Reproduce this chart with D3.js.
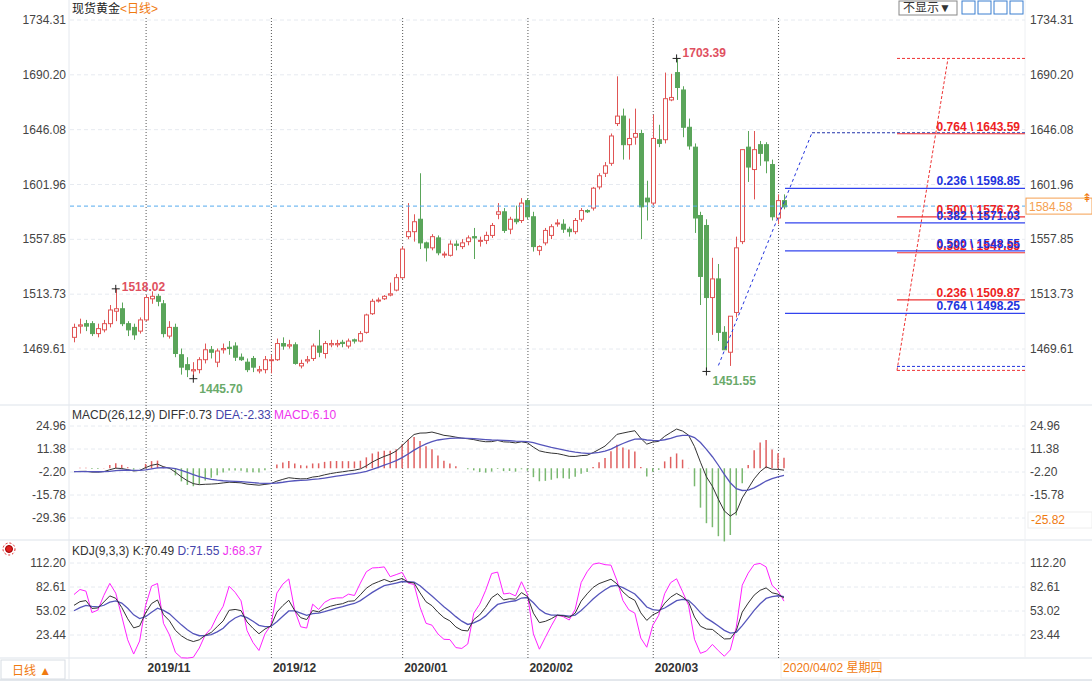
<!DOCTYPE html>
<html><head><meta charset="utf-8">
<script src="https://cdn.jsdelivr.net/npm/d3@7"></script>
<style>
body{margin:0;background:#fff;font-family:Arial,"Liberation Sans","Noto Sans CJK SC",sans-serif}
text{font-size:12px}
</style></head>
<body><svg id="chart" width="1092" height="683"></svg>
<script>
// daily candles, [open, high, low, close], 2019-10 .. 2020-04-02
var candles = [
 [1479,1490,1475,1487],[1488,1494,1482,1489],[1490,1493,1484,1488],[1490,1492,1480,1482],[1482,1490,1479,1486],
 [1485,1493,1483,1490],[1490,1505,1487,1501],[1500,1518.02,1492,1502],[1502,1507,1488,1490],[1490,1492,1480,1485],
 [1487,1490,1477,1481],[1484,1495,1482,1493],[1493,1513,1492,1511],[1510,1516,1506,1512],[1512,1514,1504,1508],
 [1506,1509,1479,1482],[1480,1492,1478,1487],[1487,1490,1463,1466],[1465,1470,1449,1455],[1457,1463,1447,1453],
 [1452,1459,1445.7,1453],[1453,1463,1450,1461],[1461,1474,1458,1469],[1469,1472,1462,1467],[1459,1470,1455,1468],
 [1469,1474,1466,1470],[1471,1476,1465,1470],[1472,1475,1460,1463],[1463,1466,1460,1461],[1459,1462,1451,1453],
 [1462,1464,1451,1455],[1452,1456,1450,1453],[1453,1464,1450,1461],[1461,1465,1450,1461],[1461,1478,1460,1474],
 [1474,1479,1469,1472],[1472,1477,1470,1473],[1473,1475,1457,1458],[1456,1461,1454,1458],[1460,1464,1458,1461],
 [1462,1474,1460,1472],[1472,1485,1463,1467],[1466,1476,1462,1474],[1473,1477,1471,1474],[1473,1477,1471,1474],
 [1475,1477,1471,1474],[1472,1478,1470,1476],[1477,1478,1474,1476],[1476,1484,1475,1482],[1483,1498,1482,1497],
 [1498,1510,1497,1508],[1509,1511,1507,1509],[1510,1513,1509,1512],[1513,1523,1512,1514],[1517,1530,1516,1527],
 [1527,1552,1526,1550],[1560,1587,1558,1564],[1564,1578,1556,1572],[1574,1611,1550,1555],[1555,1556,1540,1551],
 [1551,1562,1549,1560],[1559,1561,1545,1547],[1546,1548,1543,1546],[1545,1557,1544,1554],[1554,1557,1549,1553],
 [1552,1558,1550,1555],[1556,1561,1553,1559],[1560,1567,1542,1559],[1557,1560,1552,1557],[1557,1564,1554,1561],
 [1561,1571,1559,1569],[1578,1587,1574,1580],[1580,1583,1563,1565],[1566,1576,1562,1574],[1574,1585,1570,1572],
 [1573,1591,1571,1587],[1589,1591,1574,1576],[1576,1580,1548,1552],[1549,1553,1545,1552],[1555,1567,1553,1565],
 [1561,1570,1558,1568],[1571,1574,1568,1571],[1570,1574,1563,1566],[1566,1568,1560,1564],[1564,1575,1562,1573],
 [1574,1583,1572,1581],[1581,1582,1579,1580],[1583,1600,1581,1599],[1600,1611,1598,1609],[1611,1620,1608,1617],
 [1619,1643,1617,1641],[1651,1689,1649,1657],[1657,1663,1622,1634],[1634,1655,1622,1639],[1640,1663,1634,1643],
 [1643,1646,1558,1584],[1591,1605,1573,1588],[1587,1658,1585,1639],[1638,1650,1632,1635],[1638,1692,1635,1671],
 [1670,1691,1669,1672],[1692,1703.39,1670,1680],[1678,1681,1640,1648],[1648,1655,1630,1633],[1632,1635,1563,1575],
 [1577,1580,1505,1528],[1569,1574,1451.55,1511],[1511,1543,1481,1526],[1526,1538,1476,1483],[1483,1488,1469,1469],
 [1467,1480,1456,1496],[1499,1560,1495,1551],[1556,1630,1554,1630],[1632,1645,1604,1616],[1614,1645,1590,1630],
 [1634,1637,1617,1627],[1634,1636,1611,1621],[1618,1622,1573,1576],[1575,1594,1570,1589],[1589,1594,1582,1584]
];
var monthIdx = [12, 33, 55, 76, 97];
var monthLabels = ["2019/11", "2019/12", "2020/01", "2020/02", "2020/03"];
var lastIdx = 118;
var lastDate = "2020/04/02 星期四";
var priceTicks = [1734.31, 1690.20, 1646.08, 1601.96, 1557.85, 1513.73, 1469.61];
var macdTicks = [24.96, 11.38, -2.20, -15.78, -29.36];
var kdjTicks = [112.20, 82.61, 53.02, 23.44];
var lastPrice = 1584.58;
var blueFib = [[0.236, 1598.85], [0.382, 1571.03], [0.500, 1548.55], [0.764, 1498.25]];
var redFib = [[0.764, 1643.59], [0.500, 1576.73], [0.382, 1547.85], [0.236, 1509.87]];

var svg = d3.select("#chart");
var L = 70, R = 1025;
var x = d3.scaleLinear().domain([0, 119]).range([74, 784]);
var py = d3.scaleLinear().domain([1469.61, 1734.31]).range([349, 20]);
var my = d3.scaleLinear().domain([-29.36, 24.96]).range([518, 426]);
var ky = d3.scaleLinear().domain([23.44, 112.20]).range([635, 563]);

// frames
svg.append("rect").attr("x", 0).attr("y", 0).attr("width", 1092).attr("height", 683).attr("fill", "#fff");
[405, 540, 658].forEach(function (yy) {
  svg.append("line").attr("x1", 0).attr("x2", 1092).attr("y1", yy).attr("y2", yy).attr("stroke", "#dde3ea");
});
svg.append("line").attr("x1", 0).attr("x2", 1092).attr("y1", 680).attr("y2", 680).attr("stroke", "#c8d0da");
svg.append("line").attr("x1", 69).attr("x2", 69).attr("y1", 0).attr("y2", 680).attr("stroke", "#e4e8ee");
svg.append("line").attr("x1", R).attr("x2", R).attr("y1", 0).attr("y2", 658).attr("stroke", "#eef0f3");

function grid(ticks, sc) {
  ticks.forEach(function (t) {
    svg.append("line").attr("x1", L).attr("x2", R).attr("y1", sc(t)).attr("y2", sc(t))
      .attr("stroke", "#e6eaf0").attr("stroke-dasharray", "4,3");
    svg.append("text").attr("x", 66).attr("y", sc(t) + 4).attr("text-anchor", "end").attr("fill", "#444").text(t.toFixed(2));
    svg.append("text").attr("x", 1030).attr("y", sc(t) + 4).attr("fill", "#444").text(t.toFixed(2));
  });
}
grid(priceTicks, py); grid(macdTicks, my); grid(kdjTicks, ky);

// month separators
monthIdx.concat([lastIdx]).forEach(function (i) {
  svg.append("line").attr("x1", x(i) + 0.5).attr("x2", x(i) + 0.5).attr("y1", 18).attr("y2", 658)
    .attr("stroke", "#555").attr("stroke-dasharray", "1,2");
});
monthIdx.forEach(function (i, k) {
  svg.append("text").attr("x", x(i) + 2).attr("y", 672).attr("font-weight", "bold").attr("fill", "#333").text(monthLabels[k]);
});
svg.append("rect").attr("x", x(lastIdx) + 3).attr("y", 660).attr("width", 98).attr("height", 18).attr("fill", "#fff").attr("stroke", "#eee");
svg.append("text").attr("x", x(lastIdx) + 5).attr("y", 672).attr("fill", "#f07a10").text(lastDate);
svg.append("rect").attr("x", 1).attr("y", 660).attr("width", 64).attr("height", 19).attr("fill", "#fff").attr("stroke", "#d8dde4");
svg.append("text").attr("x", 12).attr("y", 675).attr("fill", "#f07a10").attr("font-size", 14).text("日线 ▲");

// candles
var up = "#e05555", dn = "#5aa55a";
var cg = svg.append("g");
candles.forEach(function (d, i) {
  var isUp = d[3] >= d[0], c = isUp ? up : dn;
  var cx = Math.round(x(i)) + 0.5;
  cg.append("line").attr("x1", cx).attr("x2", cx).attr("y1", py(d[1])).attr("y2", py(d[2])).attr("stroke", c);
  var top = py(Math.max(d[0], d[3])), h = Math.max(1, Math.abs(py(d[0]) - py(d[3])));
  cg.append("rect").attr("x", cx - 2).attr("y", top).attr("width", 4).attr("height", h)
    .attr("fill", isUp ? "#fff" : c).attr("stroke", c);
});

// last price line
svg.append("line").attr("x1", L).attr("x2", R).attr("y1", py(lastPrice)).attr("y2", py(lastPrice))
  .attr("stroke", "#55aaee").attr("stroke-dasharray", "4,3");
svg.append("rect").attr("x", 1026).attr("y", py(lastPrice) - 8).attr("width", 66).attr("height", 16).attr("fill", "#fff").attr("stroke", "#f5a050");
svg.append("text").attr("x", 1029).attr("y", py(lastPrice) + 5).attr("fill", "#f5a050").text(lastPrice.toFixed(2));
svg.append("text").attr("x", 1082).attr("y", py(lastPrice) - 4).attr("fill", "#f07a10").attr("font-size", 10).text("⇞");

// extremes
function mark(i, v, label, col, dy, dx) {
  var cx = x(i);
  svg.append("line").attr("x1", cx - 4).attr("x2", cx + 4).attr("y1", py(v)).attr("y2", py(v)).attr("stroke", "#222");
  svg.append("line").attr("x1", cx).attr("x2", cx).attr("y1", py(v) - 4).attr("y2", py(v) + 4).attr("stroke", "#222");
  svg.append("text").attr("x", cx + dx).attr("y", py(v) + dy).attr("fill", col).attr("font-weight", "bold").text(label);
}
mark(7, 1518.02, "1518.02", "#e05060", 2, 6);
mark(20, 1445.70, "1445.70", "#6aaa6a", 14, 6);
mark(101, 1703.39, "1703.39", "#e05060", -1, 6);
mark(106, 1451.55, "1451.55", "#6aaa6a", 14, 6);

// fibonacci
var bx0 = x(106) + 12, bx1 = 812, rx0 = 897, rx1 = 948;
svg.append("line").attr("x1", bx0).attr("y1", py(1451.55) - 6).attr("x2", bx1).attr("y2", py(1643.59))
  .attr("stroke", "#2233dd").attr("stroke-dasharray", "3,3");
svg.append("line").attr("x1", bx1).attr("x2", R).attr("y1", py(1643.59)).attr("y2", py(1643.59)).attr("stroke", "#2233aa").attr("stroke-dasharray", "3,2");
svg.append("line").attr("x1", rx0).attr("x2", R).attr("y1", py(1455.6)).attr("y2", py(1455.6)).attr("stroke", "#2233dd").attr("stroke-dasharray", "3,2");
svg.append("line").attr("x1", rx0).attr("x2", R).attr("y1", py(1452.4)).attr("y2", py(1452.4)).attr("stroke", "#ee3333").attr("stroke-dasharray", "3,2");
svg.append("line").attr("x1", rx0).attr("x2", R).attr("y1", py(1703.39)).attr("y2", py(1703.39)).attr("stroke", "#ee3333").attr("stroke-dasharray", "3,2");
svg.append("line").attr("x1", rx0).attr("y1", py(1452.4)).attr("x2", rx1).attr("y2", py(1703.39)).attr("stroke", "#ee3333").attr("stroke-dasharray", "3,2");
blueFib.forEach(function (f) {
  svg.append("line").attr("x1", 785).attr("x2", R).attr("y1", py(f[1])).attr("y2", py(f[1])).attr("stroke", "#3344ee").attr("stroke-width", 1.2);
});
redFib.forEach(function (f) {
  svg.append("line").attr("x1", rx0).attr("x2", R).attr("y1", py(f[1]) + 1).attr("y2", py(f[1]) + 1).attr("stroke", "#ee3333").attr("stroke-width", 1.2);
  svg.append("text").attr("x", 1020).attr("y", py(f[1]) - 2).attr("text-anchor", "end").attr("fill", "#ee2222")
    .attr("font-weight", "bold").text(f[0].toFixed(3) + " \\ " + f[1].toFixed(2));
});
blueFib.forEach(function (f) {
  svg.append("text").attr("x", 1020).attr("y", py(f[1]) - 3).attr("text-anchor", "end").attr("fill", "#2233dd")
    .attr("font-weight", "bold").text(f[0].toFixed(3) + " \\ " + f[1].toFixed(2));
});

// indicators from the candles
var closes = candles.map(function (d) { return d[3]; });
function ema(arr, n) { var a = 2 / (n + 1), out = [], p = arr[0]; arr.forEach(function (v) { p = a * v + (1 - a) * p; out.push(p); }); return out; }
var e12 = ema(closes, 12), e26 = ema(closes, 26);
var diff = closes.map(function (c, i) { return e12[i] - e26[i] - 2; });
var dea = ema(diff, 9);
var hist = diff.map(function (v, i) { return 2 * (v - dea[i]); });
hist.forEach(function (h, i) {
  svg.append("line").attr("x1", x(i)).attr("x2", x(i)).attr("y1", my(0)).attr("y2", my(h))
    .attr("stroke", h >= 0 ? "#e06060" : "#7ab870").attr("stroke-width", 1.5);
});
var lineM = d3.line().x(function (d, i) { return x(i); }).y(function (d) { return my(d); });
svg.append("path").attr("d", lineM(diff)).attr("fill", "none").attr("stroke", "#333");
svg.append("path").attr("d", lineM(dea)).attr("fill", "none").attr("stroke", "#5555bb").attr("stroke-width", 1.3);

var K = [], D = [], J = [], pk = 50, pd = 50;
candles.forEach(function (d, i) {
  var w = candles.slice(Math.max(0, i - 8), i + 1);
  var hh = d3.max(w, function (c) { return c[1]; }), ll = d3.min(w, function (c) { return c[2]; });
  var rsv = hh === ll ? 50 : (d[3] - ll) / (hh - ll) * 100;
  pk = (2 * pk + rsv) / 3; pd = (2 * pd + pk) / 3;
  K.push(pk); D.push(pd); J.push(3 * pk - 2 * pd);
});
var lineK = d3.line().x(function (d, i) { return x(i); }).y(function (d) { return ky(Math.max(-5, Math.min(118, d))); });
svg.append("path").attr("d", lineK(J)).attr("fill", "none").attr("stroke", "#ff22ff");
svg.append("path").attr("d", lineK(D)).attr("fill", "none").attr("stroke", "#5555bb").attr("stroke-width", 1.3);
svg.append("path").attr("d", lineK(K)).attr("fill", "none").attr("stroke", "#333");

svg.append("rect").attr("x", 1028).attr("y", 512).attr("width", 64).attr("height", 16).attr("fill", "#fff").attr("stroke", "#eee");
svg.append("text").attr("x", 1031).attr("y", 524).attr("fill", "#f07a10").text("-25.82");

// titles
var t1 = svg.append("text").attr("x", 72).attr("y", 13);
t1.append("tspan").attr("fill", "#222").text("现货黄金");
t1.append("tspan").attr("fill", "#f07a10").text("<日线>");
var t2 = svg.append("text").attr("x", 72).attr("y", 419);
t2.append("tspan").attr("fill", "#333").text("MACD(26,12,9) DIFF:0.73  ");
t2.append("tspan").attr("fill", "#4444aa").text("DEA:-2.33  ");
t2.append("tspan").attr("fill", "#ee33ee").text("MACD:6.10");
var t3 = svg.append("text").attr("x", 72).attr("y", 555);
t3.append("tspan").attr("fill", "#333").text("KDJ(9,3,3) K:70.49  ");
t3.append("tspan").attr("fill", "#4444aa").text("D:71.55  ");
t3.append("tspan").attr("fill", "#ee33ee").text("J:68.37");
svg.append("circle").attr("cx", 9).attr("cy", 549).attr("r", 3.5).attr("fill", "#e02020").attr("stroke", "#900");
svg.append("circle").attr("cx", 9).attr("cy", 549).attr("r", 6).attr("fill", "none").attr("stroke", "#e02020").attr("stroke-dasharray", "2,2");

// toolbar
svg.append("rect").attr("x", 899).attr("y", 1).attr("width", 58).attr("height", 14).attr("fill", "#fff").attr("stroke", "#888");
svg.append("text").attr("x", 903).attr("y", 12).attr("fill", "#333").text("不显示▼");
[962, 978, 994, 1010].forEach(function (bx) {
  svg.append("rect").attr("x", bx).attr("y", 1).attr("width", 13).attr("height", 13).attr("fill", "#fff").attr("stroke", "#3a7fd0");
});
</script></body></html>
